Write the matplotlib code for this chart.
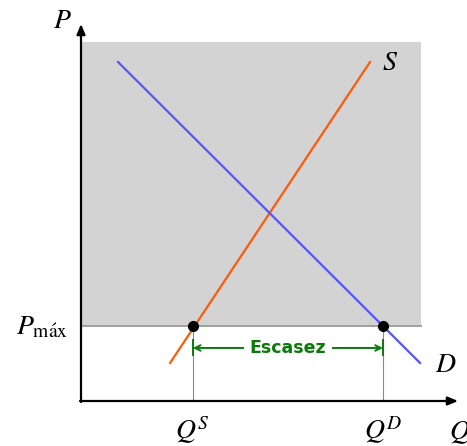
import matplotlib
matplotlib.use("Agg")
import matplotlib.pyplot as plt
import numpy as np

plt.rcParams['mathtext.fontset'] = 'stix'

# Data (model units)
supply_x = [2.62, 8.50]
supply_y = [1.12, 9.97]
demand_x = [1.09, 9.97]
demand_y = [9.97, 1.12]
p_max = 2.2
q_s = 3.29
q_d = 8.88
region_x = [0, 10]
region_top = 10.56
axis_end = 11.09
shortage_y = 1.56

fig = plt.figure(figsize=(4.67, 4.46), dpi=100)
ax = fig.add_axes([0, 0, 1, 1])
ax.set_xlim(-81/34, (467-81)/34)
ax.set_ylim(-45/34, 401/34)
ax.axis('off')

# gray region above price ceiling
ax.fill_between(region_x, p_max, region_top, color='#d3d3d3', zorder=0, linewidth=0)
ax.plot(region_x, [p_max, p_max], color='#9a9a9a', lw=1.3, zorder=1)

# vertical guides
ax.plot([q_s, q_s], [0, p_max], color='#8a8a8a', lw=0.8, zorder=1)
ax.plot([q_d, q_d], [0, p_max], color='#8a8a8a', lw=0.8, zorder=1)

# curves
ax.plot(supply_x, supply_y, color='#ff5a0a', lw=1.6, zorder=2)
ax.plot(demand_x, demand_y, color='#5555ff', lw=1.6, zorder=2)

# points
ax.plot([q_s, q_d], [p_max, p_max], 'o', color='black', ms=7, zorder=4)

# axes arrows
ax.annotate('', xy=(axis_end, 0), xytext=(-0.03, 0),
            arrowprops=dict(arrowstyle='-|>,head_length=0.6,head_width=0.25', color='black', lw=1.6, shrinkA=0, shrinkB=0), zorder=5)
ax.annotate('', xy=(0, axis_end), xytext=(0, -0.03),
            arrowprops=dict(arrowstyle='-|>,head_length=0.6,head_width=0.25', color='black', lw=1.6, shrinkA=0, shrinkB=0), zorder=5)

# shortage arrow
green = '#0a7a0a'
mid = (q_s + q_d) / 2
for q in (q_s, q_d):
    ax.annotate('', xy=(q, shortage_y), xytext=(mid, shortage_y),
                arrowprops=dict(arrowstyle='->', color=green, lw=1.4, shrinkA=0, shrinkB=0))
    ax.plot([q, q], [shortage_y - 0.22, shortage_y + 0.22], color=green, lw=1.4, zorder=3)
ax.text(mid, shortage_y, 'Escasez', color=green, fontsize=12.5, fontweight='bold',
        family='DejaVu Sans', ha='center', va='center',
        bbox=dict(facecolor='white', edgecolor='none', pad=4), zorder=4)

# labels
fs = 20
ax.text(-0.55, 11.2, r'$P$', fontsize=fs, ha='center', va='center')
ax.text(-0.38, p_max, r'$P_{\mathrm{m\acute{a}x}}$', fontsize=fs, ha='right', va='center')
ax.text(8.85, 9.97, r'$S$', fontsize=fs, ha='left', va='center')
ax.text(10.4, 1.1, r'$D$', fontsize=fs, ha='left', va='center')
ax.text(q_s, -1.12, r'$Q^S$', fontsize=fs, ha='center', va='baseline')
ax.text(q_d, -1.12, r'$Q^D$', fontsize=fs, ha='center', va='baseline')
ax.text(10.82, -1.12, r'$Q$', fontsize=fs, ha='left', va='baseline')

fig.savefig('out.png', dpi=100)
